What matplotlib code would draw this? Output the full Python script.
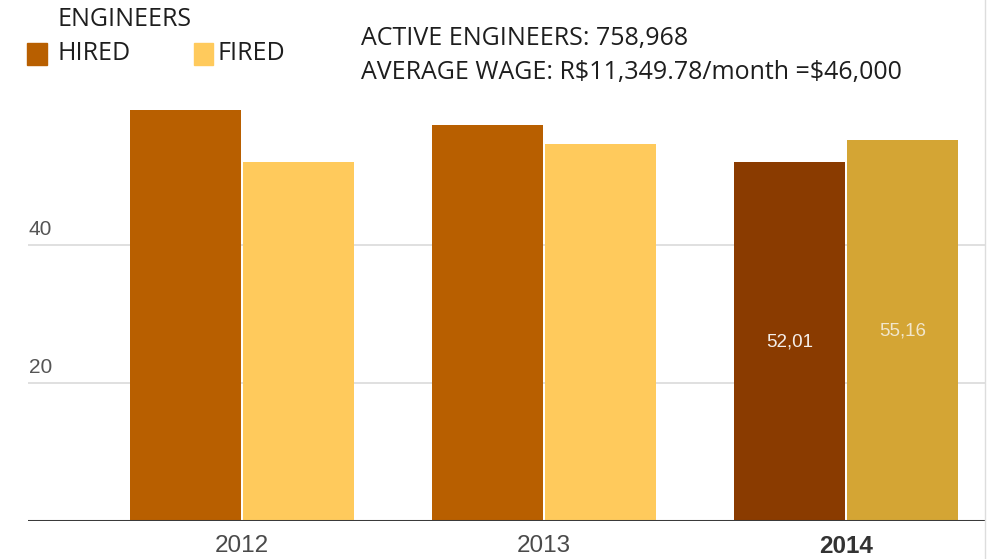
import matplotlib
matplotlib.use("Agg")
import matplotlib.pyplot as plt
import numpy as np

# Data
years = ["2012", "2013", "2014"]
hired = [59.6, 57.4, 52.01]
fired = [52.1, 54.7, 55.16]
yticks = [20, 40]
labeled_year = "2014"

header_font = ["Open Sans", "DejaVu Sans"]
axis_font = ["Liberation Sans", "DejaVu Sans"]

hired_color = "#B85F00"
fired_color = "#FFCA5C"
hired_hl = "#8A3B00"
fired_hl = "#D4A534"

W, H = 993, 559
fig = plt.figure(figsize=(W / 100, H / 100), dpi=100)
fig.patch.set_facecolor("white")

# plot area in pixels (left, right, bottom-from-top)
px_left, px_right, px_base = 28, 985, 521
ax = fig.add_axes([px_left / W, 1 - px_base / H, (px_right - px_left) / W, px_base / H])

unit = 302.0  # px per category
c0 = 242.0    # px of first category center
ax.set_xlim((px_left - c0) / unit, (px_right - c0) / unit)
ax.set_ylim(0, px_base / 6.9)

x = np.arange(len(years))
bw = 0.3675
off = bw / 2 + 0.0035
hc = [hired_hl if y == labeled_year else hired_color for y in years]
fc = [fired_hl if y == labeled_year else fired_color for y in years]
ax.bar(x - off, hired, bw, color=hc, zorder=3, linewidth=0)
ax.bar(x + off, fired, bw, color=fc, zorder=3, linewidth=0)

# gridlines and tick labels
for t in yticks:
    ax.axhline(t, color="#DADADA", lw=1.2, zorder=1)
    ax.text((px_left - c0) / unit + 0.003, t + 0.9, str(t), fontsize=15,
            color="#555555", family=axis_font, ha="left", va="bottom", zorder=2)
ax.axhline(0, color="#3A3A3A", lw=2.2, zorder=4)

# value labels inside highlighted bars
for i, y in enumerate(years):
    if y == labeled_year:
        ax.text(x[i] - off, hired[i] / 2, f"{hired[i]:.2f}".replace(".", ","),
                ha="center", va="center", fontsize=13.5, color="#F4EEEA",
                family=axis_font, zorder=5)
        ax.text(x[i] + off, fired[i] / 2, f"{fired[i]:.2f}".replace(".", ","),
                ha="center", va="center", fontsize=13.5, color="#F1E6CC",
                family=axis_font, zorder=5)

# category labels
ax.set_xticks(x)
ax.set_xticklabels(years)
for lab, y in zip(ax.get_xticklabels(), years):
    lab.set_family(axis_font)
    lab.set_fontsize(17.5)
    lab.set_color("#333333" if y == labeled_year else "#4A4A4A")
    lab.set_fontweight("bold" if y == labeled_year else "normal")
ax.tick_params(axis="x", length=0, pad=10)
ax.set_yticks([])
for s in ax.spines.values():
    s.set_visible(False)

# header: legend and notes
def fy(py):
    return 1 - py / H

hs = 18
fig.text(57 / W, fy(20), "ENGINEERS", fontsize=hs, family=header_font,
         color="#1E1E1E", va="center", ha="left")
fig.patches.append(plt.Rectangle((27 / W, fy(65)), 20 / W, 22 / H,
                                 transform=fig.transFigure, color=hired_color))
fig.text(57 / W, fy(54), "HIRED", fontsize=hs, family=header_font,
         color="#1E1E1E", va="center", ha="left")
fig.patches.append(plt.Rectangle((194 / W, fy(65)), 19 / W, 22 / H,
                                 transform=fig.transFigure, color=fired_color))
fig.text(217 / W, fy(54), "FIRED", fontsize=hs, family=header_font,
         color="#1E1E1E", va="center", ha="left")
fig.text(361 / W, fy(38), "ACTIVE ENGINEERS: 758,968", fontsize=hs,
         family=header_font, color="#1E1E1E", va="center", ha="left")
fig.text(361 / W, fy(72), r"AVERAGE WAGE: R\$11,349.78/month =\$46,000",
         fontsize=hs, family=header_font, color="#1E1E1E", va="center", ha="left")

# right border line
fig.add_artist(plt.Line2D([985 / W, 985 / W], [0, 1], transform=fig.transFigure,
                          color="#DDDDDD", lw=1))

fig.savefig("out.png", dpi=100, facecolor="white")
